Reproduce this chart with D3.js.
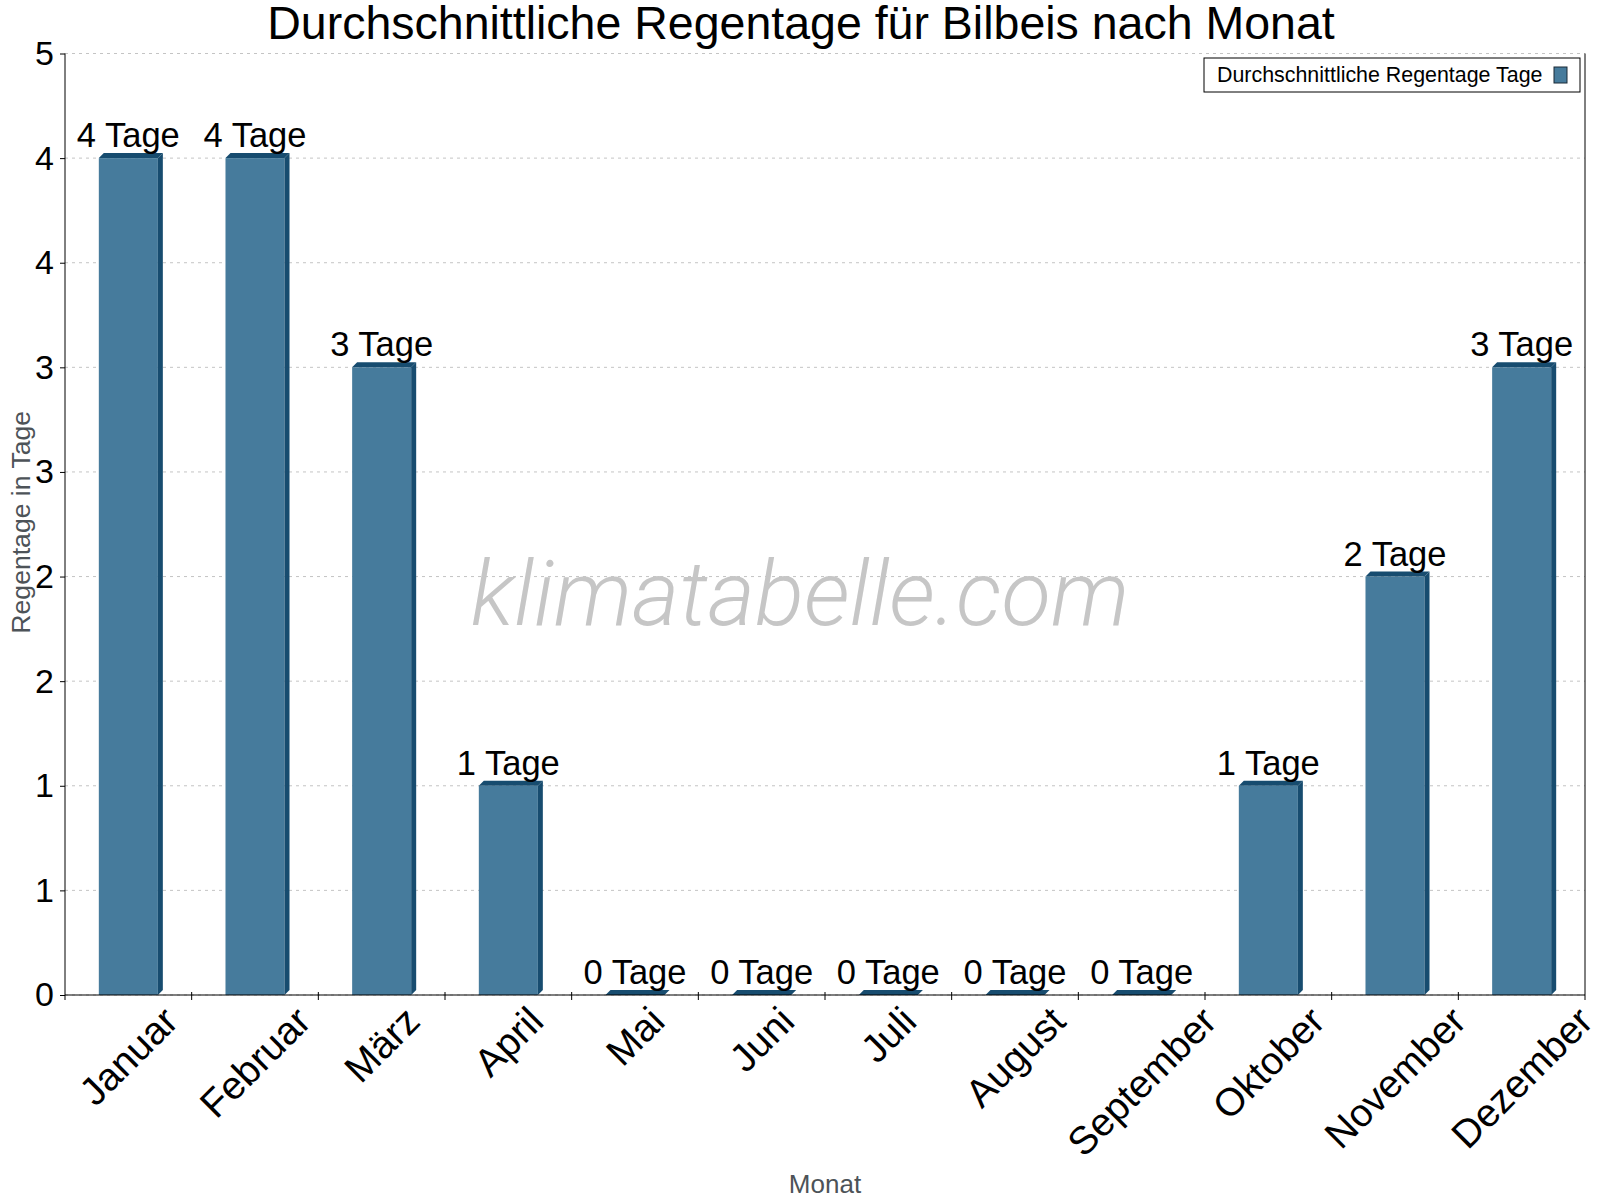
<!DOCTYPE html>
<html>
<head>
<meta charset="utf-8">
<script src="https://cdn.jsdelivr.net/npm/d3@7"></script>
<style>
    body { margin: 0; background: #ffffff; }
    svg { display: block; font-family: "Liberation Sans", Arial, sans-serif; }
</style>
</head>
<body>
<div id="chart"></div>
<script>
// Data
const months = ['Januar', 'Februar', 'März', 'April', 'Mai', 'Juni', 'Juli',
    'August', 'September', 'Oktober', 'November', 'Dezember'];
const rainDays = [4.4, 4.4, 3.3, 1.1, 0, 0, 0, 0, 0, 1.1, 2.2, 3.3];
const yTickValues = [0, 0.55, 1.1, 1.65, 2.2, 2.75, 3.3, 3.85, 4.4, 4.95];
const chartTitle = 'Durchschnittliche Regentage für Bilbeis nach Monat';
const legendLabel = 'Durchschnittliche Regentage Tage';
const xTitle = 'Monat';
const yTitle = 'Regentage in Tage';
const watermark = 'klimatabelle.com';

class RainBarChart {

    constructor(_config, _labels, _values) {
        this.config = {
            parentElement: _config.parentElement,
            containerWidth: _config.containerWidth || 1600,
            containerHeight: _config.containerHeight || 1200,
            margin: _config.margin || {top: 53.5, right: 15, bottom: 205, left: 65},
            depth: 5,
            barRatio: 0.466,
            frontColor: '#467b9c',
            darkColor: '#174c6f'
        };
        this.labels = _labels;
        this.values = _values;
        this.initVis();
    }

    initVis() {
        let vis = this;

        vis.width = vis.config.containerWidth - vis.config.margin.left - vis.config.margin.right;
        vis.height = vis.config.containerHeight - vis.config.margin.top - vis.config.margin.bottom;

        vis.svg = d3.select(vis.config.parentElement)
            .append('svg')
            .attr('width', vis.config.containerWidth)
            .attr('height', vis.config.containerHeight);

        vis.chart = vis.svg.append('g')
            .attr('transform', `translate(${vis.config.margin.left},${vis.config.margin.top})`);

        vis.xScale = d3.scaleBand()
            .domain(vis.labels)
            .range([0, vis.width])
            .padding(0);

        vis.yScale = d3.scaleLinear()
            .domain([0, d3.max(yTickValues)])
            .range([vis.height, 0]);

        vis.renderVis();
    }

    renderVis() {
        let vis = this;
        const d = vis.config.depth;
        const bw = vis.xScale.bandwidth() * vis.config.barRatio;

        // dotted grid lines
        vis.chart.selectAll('.grid')
            .data(yTickValues)
            .join('line')
            .attr('class', 'grid')
            .attr('x1', 0)
            .attr('x2', vis.width)
            .attr('y1', t => vis.yScale(t))
            .attr('y2', t => vis.yScale(t))
            .attr('stroke', '#c4c4c4')
            .attr('stroke-width', 1)
            .attr('stroke-dasharray', '3,4');

        // watermark
        vis.chart.append('text')
            .attr('x', 800 - vis.config.margin.left)
            .attr('y', 625 - vis.config.margin.top)
            .attr('text-anchor', 'middle')
            .attr('font-family', 'Roboto, "Liberation Sans", sans-serif')
            .attr('font-weight', 300)
            .attr('font-style', 'italic')
            .attr('font-size', '91px')
            .attr('fill', '#c6c6c6')
            .text(watermark);

        const bars = vis.chart.selectAll('.bar')
            .data(vis.values.map((v, i) => ({month: vis.labels[i], value: v})))
            .join('g')
            .attr('class', 'bar');

        const x0 = m => vis.xScale(m.month) + vis.xScale.bandwidth() / 2 - bw / 2;

        // front face
        bars.filter(m => m.value > 0)
            .append('rect')
            .attr('x', m => x0(m))
            .attr('y', m => vis.yScale(m.value))
            .attr('width', bw)
            .attr('height', m => vis.height - vis.yScale(m.value))
            .attr('fill', vis.config.frontColor);

        // side face
        bars.filter(m => m.value > 0)
            .append('path')
            .attr('d', m => {
                const x = x0(m) + bw, y = vis.yScale(m.value), b = vis.height;
                return `M${x},${y}L${x + d},${y - d}L${x + d},${b - d}L${x},${b}Z`;
            })
            .attr('fill', vis.config.darkColor);

        // top face
        bars.append('path')
            .attr('d', m => {
                const x = x0(m), y = vis.yScale(m.value);
                return `M${x},${y}L${x + d},${y - d}L${x + bw + d},${y - d}L${x + bw},${y}Z`;
            })
            .attr('fill', vis.config.darkColor);

        // value labels
        bars.append('text')
            .attr('x', m => vis.xScale(m.month) + vis.xScale.bandwidth() / 2)
            .attr('y', m => vis.yScale(m.value) - 11)
            .attr('text-anchor', 'middle')
            .attr('font-size', '34.5px')
            .attr('fill', '#000')
            .text(m => `${Math.round(m.value)} Tage`);

        // y axis
        const yAxis = d3.axisLeft(vis.yScale)
            .tickValues(yTickValues)
            .tickSize(5)
            .tickPadding(6)
            .tickFormat(t => Math.round(t));

        vis.chart.append('g')
            .attr('class', 'y-axis')
            .call(yAxis)
            .call(g => g.select('.domain').remove())
            .call(g => g.selectAll('.tick text')
                .attr('font-size', '34px')
                .attr('font-family', '"Liberation Sans", Arial, sans-serif')
                .attr('fill', '#000'))
            .call(g => g.selectAll('.tick line').attr('stroke', '#000'));

        // axis lines
        vis.chart.append('line')
            .attr('x1', 0).attr('x2', 0)
            .attr('y1', 0).attr('y2', vis.height + 5)
            .attr('stroke', '#000');
        vis.chart.append('line')
            .attr('x1', vis.width).attr('x2', vis.width)
            .attr('y1', 0).attr('y2', vis.height + 5)
            .attr('stroke', '#000');
        vis.chart.append('line')
            .attr('x1', 0).attr('x2', vis.width)
            .attr('y1', vis.height).attr('y2', vis.height)
            .attr('stroke', '#000');

        // x ticks at band boundaries
        vis.chart.selectAll('.xtick')
            .data(vis.labels.slice(1))
            .join('line')
            .attr('class', 'xtick')
            .attr('x1', m => vis.xScale(m))
            .attr('x2', m => vis.xScale(m))
            .attr('y1', vis.height - 3)
            .attr('y2', vis.height + 5)
            .attr('stroke', '#000');

        // rotated month labels
        const labelTop = 1004 - vis.config.margin.top;
        vis.chart.selectAll('.xlabel')
            .data(vis.labels)
            .join('text')
            .attr('class', 'xlabel')
            .attr('text-anchor', 'middle')
            .attr('dy', '0.35em')
            .attr('font-size', '39px')
            .attr('fill', '#000')
            .text(m => m)
            .each(function (m) {
                const len = this.getComputedTextLength();
                const cx = vis.xScale(m) + vis.xScale.bandwidth() / 2;
                const cy = labelTop + 0.3535 * (len + 28);
                d3.select(this).attr('transform', `translate(${cx},${cy}) rotate(-45)`);
            });

        // titles
        vis.svg.append('text')
            .attr('x', 801)
            .attr('y', 39)
            .attr('text-anchor', 'middle')
            .attr('font-size', '46.5px')
            .attr('fill', '#000')
            .text(chartTitle);

        vis.svg.append('text')
            .attr('x', vis.config.margin.left + vis.width / 2)
            .attr('y', 1193)
            .attr('text-anchor', 'middle')
            .attr('font-size', '26px')
            .attr('fill', '#4d5358')
            .text(xTitle);

        vis.svg.append('text')
            .attr('transform', `translate(30,${vis.config.margin.top + vis.height / 2 - 2}) rotate(-90)`)
            .attr('text-anchor', 'middle')
            .attr('font-size', '26.6px')
            .attr('fill', '#4d5358')
            .text(yTitle);

        // legend
        const legend = vis.svg.append('g').attr('transform', 'translate(1204,58)');
        legend.append('rect')
            .attr('width', 376)
            .attr('height', 34)
            .attr('fill', '#fff')
            .attr('stroke', '#000');
        legend.append('text')
            .attr('x', 13)
            .attr('y', 24)
            .attr('font-size', '21.4px')
            .attr('fill', '#000')
            .text(legendLabel);
        legend.append('rect')
            .attr('x', 350)
            .attr('y', 9)
            .attr('width', 13)
            .attr('height', 16)
            .attr('fill', vis.config.frontColor)
            .attr('stroke', '#1a2a36');
    }
}

new RainBarChart({parentElement: '#chart'}, months, rainDays);
</script>
</body>
</html>
